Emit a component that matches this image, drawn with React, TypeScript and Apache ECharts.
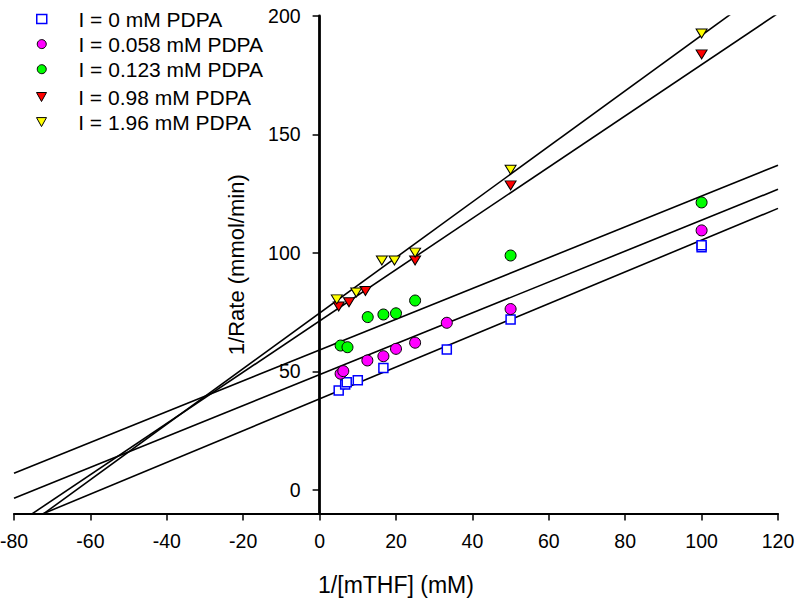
import React, { useEffect, useRef } from "react";
import * as echarts from "echarts";

const FONT = "'Liberation Sans', Arial, Helvetica, sans-serif";

const seriesNames = [
  "I = 0 mM PDPA",
  "I = 0.058 mM PDPA",
  "I = 0.123 mM PDPA",
  "I = 0.98 mM PDPA",
  "I = 1.96 mM PDPA",
];

// 1/[mTHF] (mM) and 1/Rate (mmol/min) for each inhibitor level
const x0 = [5, 6.7, 7.1, 10, 16.7, 33.3, 50, 100, 100];
const y0 = [41.9, 44.5, 45.4, 46.2, 51.4, 59.2, 71.9, 102.4, 103.2];

const x058 = [5.5, 6.2, 12.5, 16.7, 20, 25, 33.3, 50, 100];
const y058 = [49.0, 50.1, 54.6, 56.4, 59.5, 62.1, 70.5, 76.3, 109.5];

const x123 = [5.5, 7.3, 12.6, 16.7, 20, 25, 50, 100];
const y123 = [60.9, 60.2, 72.9, 74.0, 74.5, 79.9, 98.9, 121.3];

const x098 = [5, 7.7, 12, 25, 50, 100];
const y098 = [77.4, 79.2, 83.9, 96.8, 128.5, 183.8];

const x196 = [4.5, 9.6, 16.3, 19.6, 25, 50, 100];
const y196 = [80.4, 83.3, 96.8, 96.8, 100.1, 135.1, 192.6];

// linear fits: intercept and slope
const fitIntercepts = [38.4, 48.6, 59.0, 71.3, 74.6];
const fitSlopes = [0.67, 0.652, 0.65, 1.082, 1.1725];

const xTickMin = -80;
const xTickMax = 120;
const yMin = -10;
const yMax = 200;

const W = 800;
const H = 602;
const GRID_LEFT = 14;
const GRID_RIGHT = 22;

const DOWN_TRIANGLE = "path://M0,0 L10,0 L5,9 Z";

export default function App() {
  const ref = useRef<HTMLDivElement>(null);
  useEffect(() => {
    if (!ref.current) return;
    const chart = echarts.init(ref.current, null, { renderer: "svg" });

    const xs = [x0, x058, x123, x098, x196];
    const ys = [y0, y058, y123, y098, y196];
    const symbols = ["rect", "circle", "circle", "triangle", "triangle"];
    const sizes: any[] = [9, 11, 11, [11, 9], [11, 9]];
    const rotates = [0, 0, 0, 180, 180];
    const fills = ["#ffffff", "#ff00ff", "#00ff00", "#ff0000", "#ffff00"];
    const borders = ["#0000ff", "#000000", "#000000", "#000000", "#000000"];
    const borderWidths = [1.5, 1, 1, 1, 1];

    const scatter = seriesNames.map((name, k) => ({
      type: "scatter",
      name,
      data: xs[k].map((x, i) => [x, ys[k][i]]),
      symbol: symbols[k],
      symbolSize: sizes[k],
      symbolRotate: rotates[k],
      itemStyle: {
        color: fills[k],
        borderColor: borders[k],
        borderWidth: borderWidths[k],
        opacity: 1,
      },
      z: 4,
    }));

    const lines = fitIntercepts.map((b, k) => ({
      type: "line",
      name: "fit" + k,
      data: [
        [xTickMin, b + fitSlopes[k] * xTickMin],
        [xTickMax, b + fitSlopes[k] * xTickMax],
      ],
      symbol: "none",
      clip: true,
      silent: true,
      lineStyle: { color: "#000", width: 1.6 },
      z: 2,
    }));

    const legendBase = {
      orient: "vertical",
      left: 36,
      padding: 0,
      itemWidth: 10,
      itemHeight: 9,
      itemGap: 4.1,
      textStyle: {
        fontSize: 21,
        fontFamily: FONT,
        color: "#000",
        lineHeight: 20,
        padding: [0, 0, 0, 26.7],
      },
    };

    const legendItem = (i: number) => {
      const item: any = {
        name: seriesNames[i],
        itemStyle: {
          color: fills[i],
          borderColor: borders[i],
          borderWidth: borderWidths[i],
        },
      };
      if (rotates[i] === 180) item.icon = DOWN_TRIANGLE;
      return item;
    };

    // place the y axis line at x = 0 of the x axis
    const plotW = W - GRID_LEFT - GRID_RIGHT;
    const zeroOffset = ((0 - xTickMin) / (xTickMax - xTickMin)) * plotW;

    chart.setOption({
      animation: false,
      backgroundColor: "#fff",
      textStyle: { fontFamily: FONT },
      grid: {
        left: GRID_LEFT,
        right: GRID_RIGHT,
        top: 16,
        bottom: 88.5,
        containLabel: false,
        outerBoundsMode: "none",
      },
      legend: [
        { ...legendBase, top: 8.5, data: [0, 1, 2].map(legendItem) },
        { ...legendBase, top: 86.5, data: [3, 4].map(legendItem) },
      ],
      xAxis: {
        type: "value",
        min: xTickMin,
        max: xTickMax,
        interval: 20,
        name: "1/[mTHF] (mM)",
        nameLocation: "middle",
        nameGap: 60,
        nameTextStyle: { fontSize: 23, color: "#000", fontFamily: FONT },
        axisLine: { onZero: false, lineStyle: { color: "#000", width: 2 } },
        axisTick: { length: 7, lineStyle: { color: "#000", width: 1.5 } },
        axisLabel: { fontSize: 19.5, color: "#000", margin: 17, fontFamily: FONT },
        splitLine: { show: false },
      },
      yAxis: {
        type: "value",
        min: yMin,
        max: yMax,
        offset: -zeroOffset,
        name: "1/Rate (mmol/min)",
        nameLocation: "middle",
        nameGap: 72,
        nameTextStyle: { fontSize: 22, color: "#000", fontFamily: FONT },
        axisLine: { onZero: false, lineStyle: { color: "#000", width: 2.8 } },
        axisTick: { length: 7, lineStyle: { color: "#000", width: 1.5 } },
        axisLabel: { fontSize: 19.5, color: "#000", margin: 19, showMinLabel: false, fontFamily: FONT },
        splitLine: { show: false },
      },
      series: [...lines, ...scatter],
    });
    return () => chart.dispose();
  }, []);

  return (
    <div
      ref={ref}
      style={{ position: "fixed", left: 0, top: 0, width: W, height: H, background: "#fff" }}
    />
  );
}
